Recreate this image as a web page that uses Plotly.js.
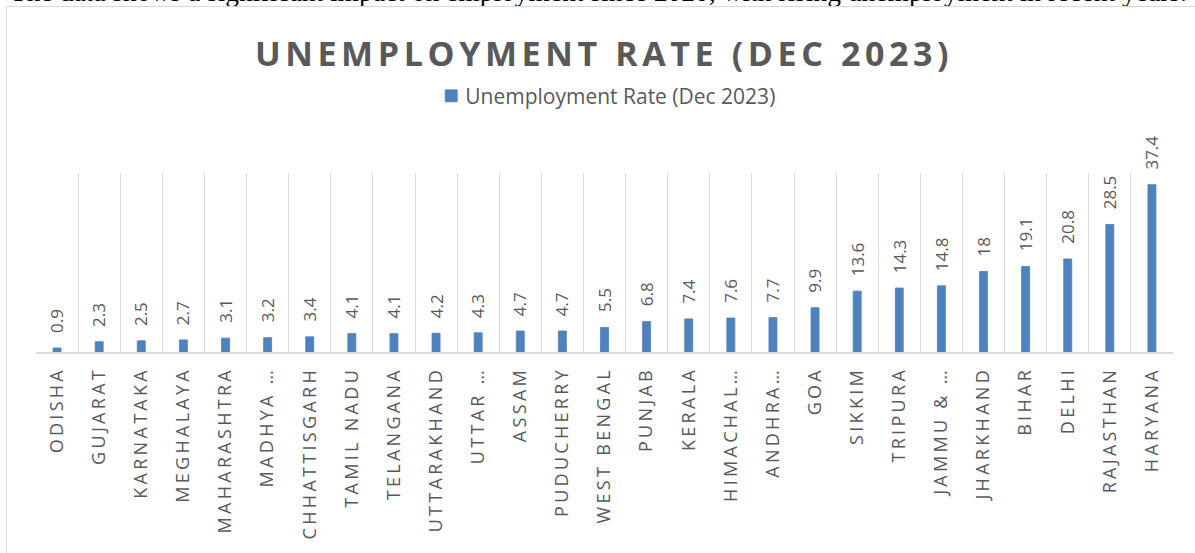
<!DOCTYPE html>
<html>
<head>
<meta charset="utf-8">
<script src="https://cdn.plot.ly/plotly-3.0.1.min.js"></script>
<style>
  html, body { margin: 0; padding: 0; background: #ffffff; width: 1195px; height: 553px; overflow: hidden; }
  #intro { position: absolute; left: 10px; top: -22px; font-family: "Liberation Serif", "DejaVu Serif", serif; font-size: 27.5px; line-height: 27px; color: #000; white-space: nowrap; }
  #frame { position: absolute; left: 6px; top: 6px; width: 1300px; height: 700px; border: 1px solid #d9d9d9; box-sizing: border-box; }
  #chart { position: absolute; left: 0; top: 0; width: 1195px; height: 553px; }
  #chart .xtick text { letter-spacing: 3.3px; }
  #chart .gtitle { letter-spacing: 4.6px; }
  #chart .legend .legendtext { transform: translateX(-6px); }
</style>
</head>
<body>
<div id="intro">The data shows a significant impact on employment since 2020, with rising unemployment in recent years.</div>
<div id="frame"></div>
<div id="chart"></div>
<script>
const states = ["ODISHA", "GUJARAT", "KARNATAKA", "MEGHALAYA", "MAHARASHTRA", "MADHYA …", "CHHATTISGARH", "TAMIL NADU", "TELANGANA", "UTTARAKHAND", "UTTAR …", "ASSAM", "PUDUCHERRY", "WEST BENGAL", "PUNJAB", "KERALA", "HIMACHAL…", "ANDHRA…", "GOA", "SIKKIM", "TRIPURA", "JAMMU & …", "JHARKHAND", "BIHAR", "DELHI", "RAJASTHAN", "HARYANA"];
const rates = [0.9, 2.3, 2.5, 2.7, 3.1, 3.2, 3.4, 4.1, 4.1, 4.2, 4.3, 4.7, 4.7, 5.5, 6.8, 7.4, 7.6, 7.7, 9.9, 13.6, 14.3, 14.8, 18, 19.1, 20.8, 28.5, 37.4];
const seriesName = "Unemployment Rate (Dec 2023)";
const chartTitle = "UNEMPLOYMENT RATE (DEC 2023)";

const gray = "#595959";
const font = "Open Sans, Lato, sans-serif";

const trace = {
  type: "bar",
  x: states,
  y: rates,
  name: seriesName,
  marker: { color: "#4f81bd", line: { color: "#4f81bd", width: 0.8 } },
  width: 0.19,
  hoverinfo: "x+y",
  showlegend: true
};

const labels = states.map((s, i) => ({
  x: s, y: rates[i], xref: "x", yref: "y",
  text: String(rates[i]),
  showarrow: false,
  textangle: -90,
  yanchor: "bottom", xanchor: "center",
  yshift: 13,
  font: { family: font, size: 17, color: gray }
}));

const layout = {
  width: 1195, height: 553,
  margin: { l: 36, r: 22, t: 173, b: 201 },
  paper_bgcolor: "rgba(0,0,0,0)",
  plot_bgcolor: "rgba(0,0,0,0)",
  title: {
    text: "<b>" + chartTitle + "</b>",
    font: { family: font, size: 34, color: gray },
    x: 0.4996, xanchor: "center",
    xref: "paper",
    yref: "container", y: 0.903, yanchor: "middle"
  },
  showlegend: true,
  legend: {
    orientation: "h",
    x: 0.3476, xanchor: "left",
    yref: "container", y: 0.826, yanchor: "middle",
    font: { family: font, size: 21, color: gray },
    bgcolor: "rgba(0,0,0,0)"
  },
  xaxis: {
    type: "category",
    range: [-0.5, states.length - 0.5],
    tickson: "boundaries",
    showgrid: true,
    gridcolor: "#d9d9d9",
    gridwidth: 1,
    showline: true,
    linecolor: "#d9d9d9",
    linewidth: 1.5,
    ticks: "",
    tickangle: -90,
    ticklabelstandoff: 6,
    tickfont: { family: font, size: 18, color: gray },
    fixedrange: true
  },
  yaxis: {
    range: [0, 40],
    showgrid: false,
    zeroline: false,
    showticklabels: false,
    ticks: "",
    showline: false,
    fixedrange: true
  },
  annotations: labels,
  bargap: 0.81
};

Plotly.newPlot("chart", [trace], layout, { displayModeBar: false });
</script>
</body>
</html>
